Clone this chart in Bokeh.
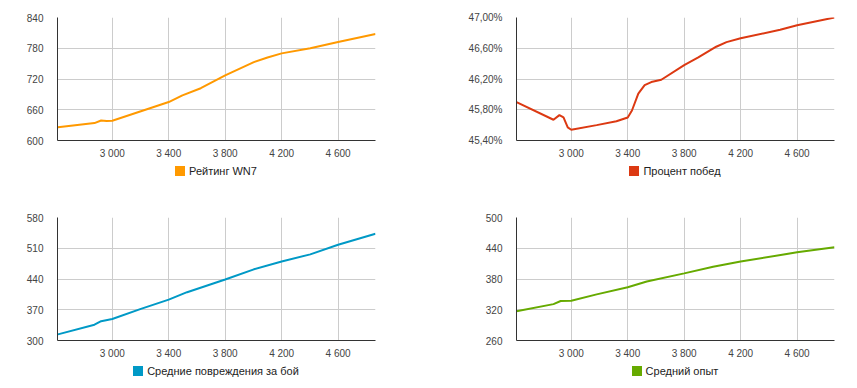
from bokeh.plotting import figure
from bokeh.models import FixedTicker, Range1d, Div, CustomJSTickFormatter
from bokeh.layouts import column, row
from bokeh.embed import file_html
from bokeh.resources import INLINE

# ---- data ----
wn7_x = [2615, 2874, 2921, 2960, 3000, 3203, 3400, 3497, 3627, 3800, 4003, 4100, 4200, 4403, 4600, 4865]
wn7_y = [626, 634, 639, 638, 638.5, 657, 675, 688, 702, 727, 753, 762, 770, 780, 792, 808]

win_x = [2612, 2874, 2916, 2945, 2975, 3000, 3180, 3320, 3400, 3430, 3475, 3520, 3567, 3638, 3800, 3900, 4027, 4100, 4200, 4480, 4600, 4865]
win_y = [45.90, 45.67, 45.73, 45.70, 45.57, 45.54, 45.60, 45.65, 45.70, 45.79, 46.01, 46.12, 46.16, 46.19, 46.38, 46.48, 46.62, 46.68, 46.73, 46.84, 46.90, 47.00]

dmg_x = [2615, 2874, 2921, 3000, 3203, 3400, 3530, 3800, 4003, 4200, 4403, 4600, 4865]
dmg_y = [314, 336, 344, 349, 372, 393, 410, 439, 462, 480, 496, 518, 543]

xp_x = [2612, 2874, 2925, 3000, 3180, 3400, 3535, 3800, 4005, 4200, 4600, 4865]
xp_y = [317, 331, 337, 337.5, 350, 364, 375, 391, 404, 414, 432, 442]

x_ticks = [3000, 3400, 3800, 4200, 4600]
wn7_ticks = [600, 660, 720, 780, 840]
win_ticks = [45.4, 45.8, 46.2, 46.6, 47.0]
dmg_ticks = [300, 370, 440, 510, 580]
xp_ticks = [260, 320, 380, 440, 500]

labels = ["Рейтинг WN7", "Процент побед", "Средние повреждения за бой", "Средний опыт"]
colors = ["#ff9900", "#dc3912", "#0099c6", "#66aa00"]

X_START, X_END = 2612, 4865
FONT = "Liberation Sans"

x_fmt = CustomJSTickFormatter(code="return Math.round(tick).toString().replace(/\\B(?=(\\d{3})+(?!\\d))/g, ' ');")
pct_fmt = CustomJSTickFormatter(code="return tick.toFixed(2).replace('.', ',') + '%';")
int_fmt = CustomJSTickFormatter(code="return Math.round(tick).toString();")


def make_fig(xs, ys, color, yticks, yfmt, right_border):
    p = figure(output_backend="svg", toolbar_location=None,
               frame_width=318, frame_height=123,
               x_range=Range1d(X_START, X_END), y_range=Range1d(yticks[0], yticks[-1]),
               min_border_left=57, min_border_right=right_border,
               min_border_top=17, min_border_bottom=24,
               background_fill_color="white", border_fill_color="white")
    p.outline_line_color = None
    p.line(xs, ys, line_color=color, line_width=2)

    p.xaxis.ticker = FixedTicker(ticks=x_ticks)
    p.yaxis.ticker = FixedTicker(ticks=yticks)
    p.xaxis.formatter = x_fmt
    p.yaxis.formatter = yfmt
    for ax in (p.xaxis, p.yaxis):
        ax.axis_line_color = "#333333"
        ax.axis_line_width = 1
        ax.major_tick_line_color = None
        ax.minor_tick_line_color = None
        ax.major_label_text_font = FONT
        ax.major_label_text_font_size = "10px"
        ax.major_label_text_color = "#444444"
    p.yaxis.major_label_standoff = 8
    p.xaxis.major_label_standoff = 1
    p.xgrid.grid_line_color = "#cccccc"
    p.ygrid.grid_line_color = "#cccccc"
    return p


def make_legend(color, label, w, h):
    html = (
        '<div style="margin-left:57px;width:318px;height:8px;display:flex;'
        'justify-content:center;align-items:center;'
        "font-family:'Liberation Sans',Arial,sans-serif;font-size:11px;color:#222222;"
        'white-space:nowrap;">'
        f'<span style="display:inline-block;width:10px;height:10px;flex:none;'
        f'background:{color};margin-right:4px;"></span>'
        f'<span style="line-height:11px;">{label}</span></div>'
    )
    return Div(text=html, width=w, height=h, margin=0)


f1 = make_fig(wn7_x, wn7_y, colors[0], wn7_ticks, int_fmt, 84)
f2 = make_fig(win_x, win_y, colors[1], win_ticks, pct_fmt, 23)
f3 = make_fig(dmg_x, dmg_y, colors[2], dmg_ticks, int_fmt, 84)
f4 = make_fig(xp_x, xp_y, colors[3], xp_ticks, int_fmt, 23)

d1 = make_legend(colors[0], labels[0], 459, 36)
d2 = make_legend(colors[1], labels[1], 398, 36)
d3 = make_legend(colors[2], labels[2], 459, 24)
d4 = make_legend(colors[3], labels[3], 398, 24)

layout = column(row(f1, f2), row(d1, d2), row(f3, f4), row(d3, d4))
open("out.html", "w").write(file_html(layout, INLINE))
